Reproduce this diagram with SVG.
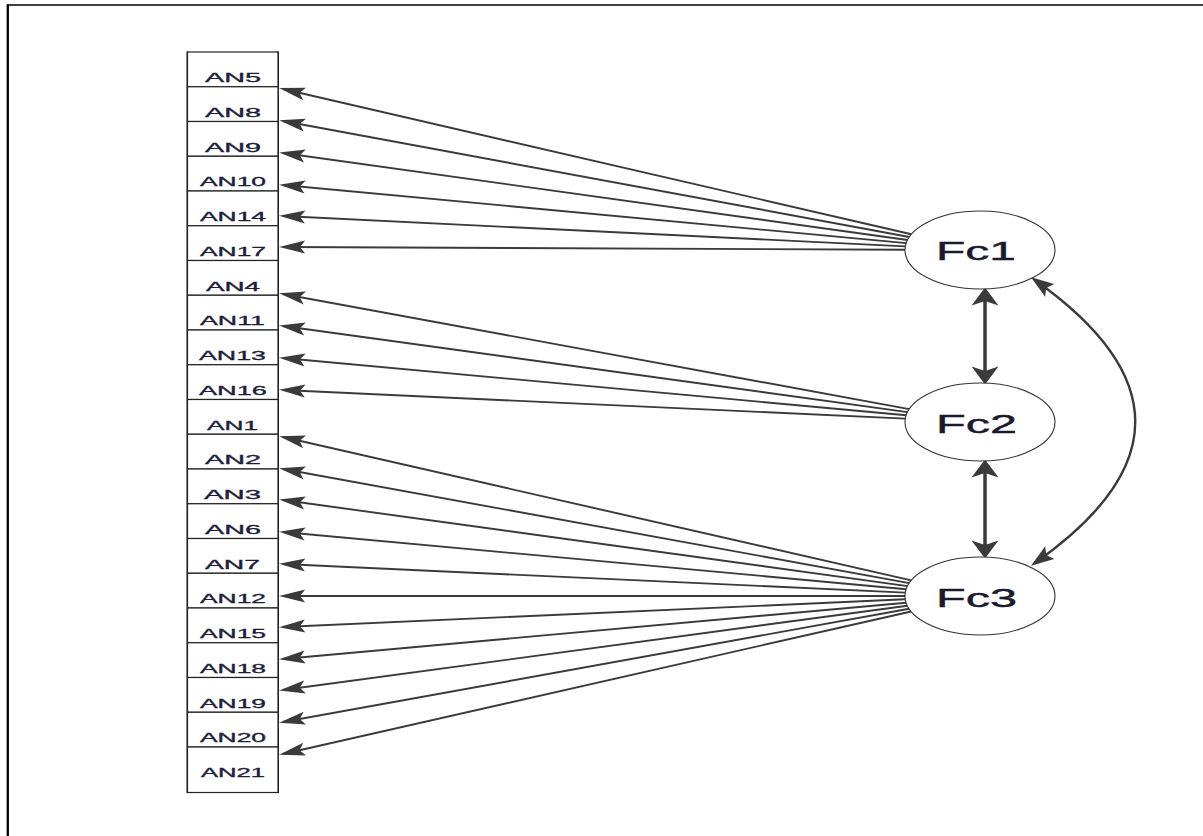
<svg xmlns="http://www.w3.org/2000/svg" width="1203" height="836" viewBox="0 0 1203 836">
<defs>
<style>
.cell{fill:#fff;stroke:#222;stroke-width:1.2}
.lbl{font-family:"Liberation Sans",Arial,sans-serif;font-size:12px;fill:#1d1d3a;stroke:#1d1d3a;stroke-width:0.3}
.fc{font-family:"Liberation Sans",Arial,sans-serif;font-size:25px;fill:#1a1a2e;stroke:#1a1a2e;stroke-width:0.4}
.lat{fill:#fff;stroke:#333;stroke-width:1.1}
.edge{fill:none;stroke:#3a3a3a;stroke-width:1.9;marker-end:url(#h)}
.cov{fill:none;stroke:#3a3a3a;stroke-width:3.5;marker-start:url(#vh);marker-end:url(#vh)}
.arc{fill:none;stroke:#3a3a3a;stroke-width:2.4;marker-start:url(#ch);marker-end:url(#ch)}
</style>
<marker id="h" markerUnits="userSpaceOnUse" orient="auto" markerWidth="30" markerHeight="20" viewBox="-19 -7 23 14" refX="0" refY="0">
<path d="M3,0 L-17,-5 L-13,0 L-17,5 Z" fill="#3a3a3a"/>
</marker>
<marker id="vh" markerUnits="userSpaceOnUse" orient="auto-start-reverse" markerWidth="30" markerHeight="30" viewBox="-12 -10 16 20" refX="0" refY="0">
<path d="M3,0 L-9,-9 L-6,0 L-9,9 Z" fill="#3a3a3a"/>
</marker>
<marker id="ch" markerUnits="userSpaceOnUse" orient="auto-start-reverse" markerWidth="30" markerHeight="20" viewBox="-15 -7 19 14" refX="0" refY="0">
<path d="M3,0 L-13,-5.5 L-10,0 L-13,5.5 Z" fill="#3a3a3a"/>
</marker>
</defs>
<rect width="1203" height="836" fill="#fff"/>
<g id="frame" stroke="#000" fill="none">
<line x1="7" y1="5" x2="1203" y2="5" stroke-width="1.7"/>
<line x1="7.8" y1="4.5" x2="7.8" y2="836" stroke-width="2.3"/>
</g>
<g id="connectors">
<line class="edge" x1="911.4" y1="234.2" x2="283" y2="89"/>
<line class="edge" x1="909.3" y1="237.0" x2="283" y2="121"/>
<line class="edge" x1="907.5" y1="240.0" x2="283" y2="153"/>
<line class="edge" x1="906.2" y1="243.1" x2="283" y2="185"/>
<line class="edge" x1="905.3" y1="246.4" x2="283" y2="216"/>
<line class="edge" x1="905" y1="249.7" x2="283" y2="247"/>
<line class="edge" x1="909.2" y1="409.1" x2="283" y2="294"/>
<line class="edge" x1="907.5" y1="412.1" x2="283" y2="326"/>
<line class="edge" x1="906.1" y1="415.2" x2="283" y2="358"/>
<line class="edge" x1="905.3" y1="418.6" x2="283" y2="390"/>
<line class="edge" x1="911.3" y1="580.4" x2="283" y2="437"/>
<line class="edge" x1="909.2" y1="583.1" x2="283" y2="469"/>
<line class="edge" x1="907.5" y1="586.1" x2="283" y2="500"/>
<line class="edge" x1="906.1" y1="589.2" x2="283" y2="532"/>
<line class="edge" x1="905.3" y1="592.6" x2="283" y2="564"/>
<line class="edge" x1="905" y1="596" x2="283" y2="596"/>
<line class="edge" x1="905.2" y1="599.3" x2="283" y2="627"/>
<line class="edge" x1="906.1" y1="602.7" x2="283" y2="659"/>
<line class="edge" x1="907.4" y1="605.7" x2="283" y2="690"/>
<line class="edge" x1="909.1" y1="608.8" x2="283" y2="722"/>
<line class="edge" x1="911.2" y1="611.5" x2="283" y2="754"/>
<line class="cov" x1="985" y1="292" x2="985" y2="380"/>
<line class="cov" x1="985" y1="464" x2="985" y2="554"/>
<path class="arc" d="M1034.5,279.7 Q1236,422 1034.5,563.3"/>
</g>
<g id="indicators">
<line x1="187.5" y1="51.5" x2="187.5" y2="793" stroke="#222" stroke-width="2"/>
<line x1="278" y1="51.5" x2="278" y2="793" stroke="#222" stroke-width="2"/>
<g id="AN5"><rect class="cell" x="187.5" y="52" width="90.5" height="34.75"/><text class="lbl" x="205" y="82" textLength="56" lengthAdjust="spacingAndGlyphs">AN5</text></g>
<g id="AN8"><rect class="cell" x="187.5" y="86.75" width="90.5" height="34.75"/><text class="lbl" x="205" y="116.75" textLength="56" lengthAdjust="spacingAndGlyphs">AN8</text></g>
<g id="AN9"><rect class="cell" x="187.5" y="121.5" width="90.5" height="34.75"/><text class="lbl" x="205" y="151.5" textLength="56" lengthAdjust="spacingAndGlyphs">AN9</text></g>
<g id="AN10"><rect class="cell" x="187.5" y="156.25" width="90.5" height="34.75"/><text class="lbl" x="200" y="186.25" textLength="66" lengthAdjust="spacingAndGlyphs">AN10</text></g>
<g id="AN14"><rect class="cell" x="187.5" y="191" width="90.5" height="34.75"/><text class="lbl" x="200" y="221" textLength="66" lengthAdjust="spacingAndGlyphs">AN14</text></g>
<g id="AN17"><rect class="cell" x="187.5" y="225.75" width="90.5" height="34.75"/><text class="lbl" x="200" y="255.75" textLength="66" lengthAdjust="spacingAndGlyphs">AN17</text></g>
<g id="AN4"><rect class="cell" x="187.5" y="260.5" width="90.5" height="34.75"/><text class="lbl" x="206" y="290.5" textLength="54" lengthAdjust="spacingAndGlyphs">AN4</text></g>
<g id="AN11"><rect class="cell" x="187.5" y="295.25" width="90.5" height="34.75"/><text class="lbl" x="200" y="325.25" textLength="65" lengthAdjust="spacingAndGlyphs">AN11</text></g>
<g id="AN13"><rect class="cell" x="187.5" y="330" width="90.5" height="34.75"/><text class="lbl" x="199" y="360" textLength="67" lengthAdjust="spacingAndGlyphs">AN13</text></g>
<g id="AN16"><rect class="cell" x="187.5" y="364.75" width="90.5" height="34.75"/><text class="lbl" x="199" y="394.75" textLength="68" lengthAdjust="spacingAndGlyphs">AN16</text></g>
<g id="AN1"><rect class="cell" x="187.5" y="399.5" width="90.5" height="34.75"/><text class="lbl" x="207" y="429.5" textLength="51" lengthAdjust="spacingAndGlyphs">AN1</text></g>
<g id="AN2"><rect class="cell" x="187.5" y="434.25" width="90.5" height="34.75"/><text class="lbl" x="205" y="464.25" textLength="56" lengthAdjust="spacingAndGlyphs">AN2</text></g>
<g id="AN3"><rect class="cell" x="187.5" y="469" width="90.5" height="34.75"/><text class="lbl" x="204" y="499" textLength="57" lengthAdjust="spacingAndGlyphs">AN3</text></g>
<g id="AN6"><rect class="cell" x="187.5" y="503.75" width="90.5" height="34.75"/><text class="lbl" x="205" y="533.75" textLength="56" lengthAdjust="spacingAndGlyphs">AN6</text></g>
<g id="AN7"><rect class="cell" x="187.5" y="538.5" width="90.5" height="34.75"/><text class="lbl" x="205" y="568.5" textLength="55" lengthAdjust="spacingAndGlyphs">AN7</text></g>
<g id="AN12"><rect class="cell" x="187.5" y="573.25" width="90.5" height="34.75"/><text class="lbl" x="200" y="603.25" textLength="66" lengthAdjust="spacingAndGlyphs">AN12</text></g>
<g id="AN15"><rect class="cell" x="187.5" y="608" width="90.5" height="34.75"/><text class="lbl" x="200" y="638" textLength="66" lengthAdjust="spacingAndGlyphs">AN15</text></g>
<g id="AN18"><rect class="cell" x="187.5" y="642.75" width="90.5" height="34.75"/><text class="lbl" x="200" y="672.75" textLength="66" lengthAdjust="spacingAndGlyphs">AN18</text></g>
<g id="AN19"><rect class="cell" x="187.5" y="677.5" width="90.5" height="34.75"/><text class="lbl" x="200" y="707.5" textLength="66" lengthAdjust="spacingAndGlyphs">AN19</text></g>
<g id="AN20"><rect class="cell" x="187.5" y="712.25" width="90.5" height="34.75"/><text class="lbl" x="200" y="742.25" textLength="66" lengthAdjust="spacingAndGlyphs">AN20</text></g>
<g id="AN21"><rect class="cell" x="187.5" y="747" width="90.5" height="45.5"/><text class="lbl" x="201" y="777" textLength="64" lengthAdjust="spacingAndGlyphs">AN21</text></g>
</g>
<g id="Fc1"><ellipse class="lat" cx="980" cy="250" rx="75" ry="39"/><text class="fc" x="936" y="260" textLength="80" lengthAdjust="spacingAndGlyphs">Fc1</text></g>
<g id="Fc2"><ellipse class="lat" cx="980" cy="422" rx="75" ry="39"/><text class="fc" x="936" y="433" textLength="81" lengthAdjust="spacingAndGlyphs">Fc2</text></g>
<g id="Fc3"><ellipse class="lat" cx="980" cy="596" rx="75" ry="39"/><text class="fc" x="936" y="607" textLength="81" lengthAdjust="spacingAndGlyphs">Fc3</text></g>
</svg>
